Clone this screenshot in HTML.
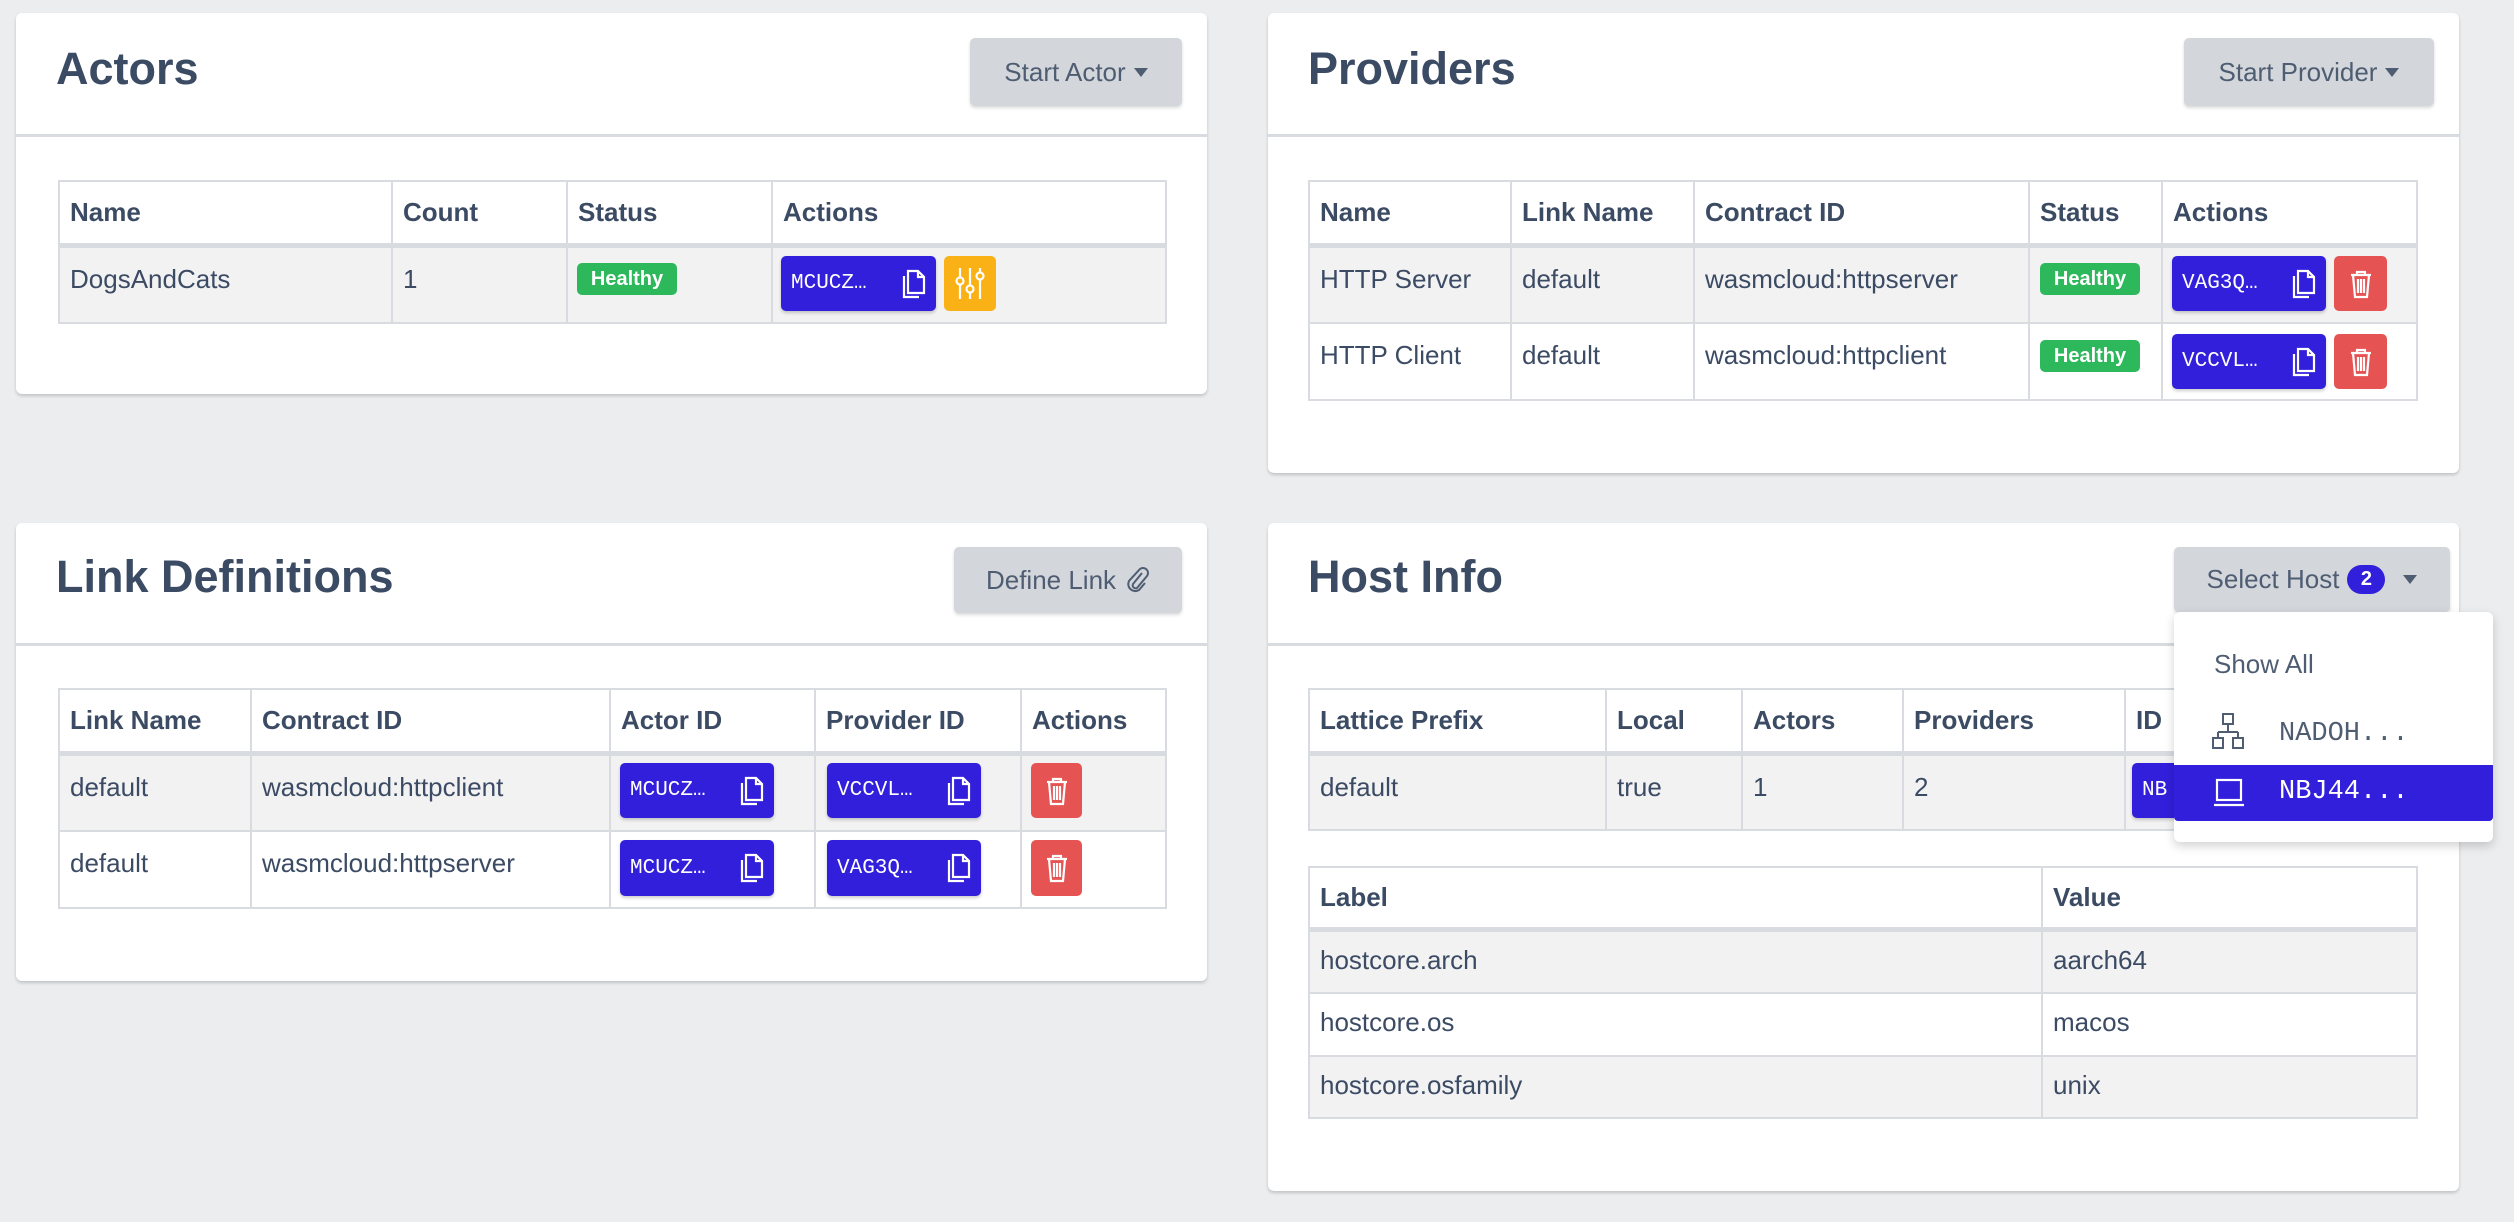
<!DOCTYPE html>
<html><head><meta charset="utf-8"><style>
*{box-sizing:border-box;margin:0;padding:0}
body{width:2514px;height:1222px;background:#ebedef;font-family:"Liberation Sans",sans-serif;color:#3c4b64;position:relative;overflow:hidden}
.card{position:absolute;background:#fff;border-radius:6px;box-shadow:0 2px 3px rgba(0,0,0,.18)}
.hdr{position:absolute;left:0;right:0;top:0;border-bottom:3px solid #d8dbe0}
.title{position:absolute;left:40px;font-size:45px;font-weight:bold;color:#3c4b64}
.btn{position:absolute;background:#d3d6db;border-radius:5px;color:#4f5d73;font-size:26px;display:flex;align-items:center;justify-content:center;box-shadow:0 2px 3px rgba(0,0,0,.15)}
.caret{display:inline-block;width:0;height:0;border-left:7px solid transparent;border-right:7px solid transparent;border-top:9px solid #4f5d73;margin-left:8px}
table{position:absolute;border-collapse:collapse;font-size:26px;color:#3c4b64;table-layout:fixed}
td,th{border:2px solid #d8dbe0;text-align:left;padding:0 10px}
th{font-weight:bold;vertical-align:middle;border-bottom:5px solid #d8dbe0}
td{vertical-align:top;padding-top:16px}
tr.s td{background:#f2f2f3}
.ab{position:absolute}
.pid{position:absolute;background:#321fdb;color:#fff;border-radius:5px;font-family:"Liberation Mono",monospace;font-size:21px;display:flex;align-items:center;padding-left:10px;box-shadow:0 2px 3px rgba(0,0,0,.2)}
.pid svg{position:absolute;right:10px}
.red{position:absolute;background:#e55353;border-radius:5px;display:flex;align-items:center;justify-content:center}
.badge{position:absolute;background:#2eb85c;color:#fff;font-weight:bold;font-size:20px;border-radius:5px;display:flex;align-items:center;justify-content:center}
</style></head><body>

<!-- Actors -->
<div class="card" style="left:16px;top:13px;width:1191px;height:381px">
 <div class="hdr" style="height:124px"></div>
 <div class="title" style="top:30px">Actors</div>
 <div class="btn" style="left:954px;top:25px;width:212px;height:68px">Start Actor<span class="caret"></span></div>
</div>
<table style="left:58px;top:180px;width:1109px">
 <tr style="height:64px"><th style="width:333px">Name</th><th style="width:175px">Count</th><th style="width:205px">Status</th><th>Actions</th></tr>
 <tr class="s" style="height:78px"><td>DogsAndCats</td><td>1</td><td></td><td></td></tr>
</table>
<div class="badge" style="left:577px;top:263px;width:100px;height:32px">Healthy</div>
<div class="pid" style="left:781px;top:256px;width:155px;height:55px">MCUCZ…<svg width="26" height="30" viewBox="0 0 26 30"><path d="M8 2h10l6 6v16H8z M18 2v6h6 M4 7v21h15" fill="none" stroke="#fff" stroke-width="2.2"/></svg></div>
<div class="ab" style="left:944px;top:256px;width:52px;height:55px;background:#f9b115;border-radius:5px"><svg width="52" height="55"><g stroke="#fff" stroke-width="2.2" fill="none"><line x1="16" y1="12" x2="16" y2="43"/><line x1="26" y1="12" x2="26" y2="43"/><line x1="36" y1="12" x2="36" y2="43"/><circle cx="16" cy="25" r="3.5" fill="#f9b115"/><circle cx="26" cy="33" r="3.5" fill="#f9b115"/><circle cx="36" cy="20" r="3.5" fill="#f9b115"/></g></svg></div>

<!-- Providers -->
<div class="card" style="left:1268px;top:13px;width:1191px;height:460px">
 <div class="hdr" style="height:124px"></div>
 <div class="title" style="top:30px">Providers</div>
 <div class="btn" style="left:916px;top:25px;width:250px;height:68px">Start Provider<span class="caret"></span></div>
</div>
<table style="left:1308px;top:180px;width:1110px">
 <tr style="height:64px"><th style="width:202px">Name</th><th style="width:183px">Link Name</th><th style="width:335px">Contract ID</th><th style="width:133px">Status</th><th>Actions</th></tr>
 <tr class="s" style="height:78px"><td>HTTP Server</td><td>default</td><td>wasmcloud:httpserver</td><td></td><td></td></tr>
 <tr style="height:77px"><td>HTTP Client</td><td>default</td><td>wasmcloud:httpclient</td><td></td><td></td></tr>
</table>
<div class="badge" style="left:2040px;top:263px;width:100px;height:32px">Healthy</div>
<div class="badge" style="left:2040px;top:340px;width:100px;height:32px">Healthy</div>
<div class="pid" style="left:2172px;top:256px;width:154px;height:55px">VAG3Q…<svg width="26" height="30" viewBox="0 0 26 30"><path d="M8 2h10l6 6v16H8z M18 2v6h6 M4 7v21h15" fill="none" stroke="#fff" stroke-width="2.2"/></svg></div>
<div class="pid" style="left:2172px;top:334px;width:154px;height:55px">VCCVL…<svg width="26" height="30" viewBox="0 0 26 30"><path d="M8 2h10l6 6v16H8z M18 2v6h6 M4 7v21h15" fill="none" stroke="#fff" stroke-width="2.2"/></svg></div>
<div class="red" style="left:2334px;top:256px;width:53px;height:55px"><svg width="26" height="30"><g stroke="#fff" stroke-width="2.2" fill="none"><path d="M3 6h20M9 6V3h8v3M5 6l2 22h12l2-22M10 10v14M13 10v14M16 10v14"/></g></svg></div>
<div class="red" style="left:2334px;top:334px;width:53px;height:55px"><svg width="26" height="30"><g stroke="#fff" stroke-width="2.2" fill="none"><path d="M3 6h20M9 6V3h8v3M5 6l2 22h12l2-22M10 10v14M13 10v14M16 10v14"/></g></svg></div>

<!-- Link Definitions -->
<div class="card" style="left:16px;top:523px;width:1191px;height:458px">
 <div class="hdr" style="height:123px"></div>
 <div class="title" style="top:28px">Link Definitions</div>
 <div class="btn" style="left:938px;top:24px;width:228px;height:66px">Define Link<svg style="margin-left:8px" width="26" height="30" viewBox="0 0 26 30"><path d="M18 8l-9 11a3 3 0 0 0 4 4l10-12a5 5 0 0 0-7-7L5 16a7 7 0 0 0 10 9l6-7" fill="none" stroke="#4f5d73" stroke-width="2"/></svg></div>
</div>
<table style="left:58px;top:688px;width:1109px">
 <tr style="height:64px"><th style="width:192px">Link Name</th><th style="width:359px">Contract ID</th><th style="width:205px">Actor ID</th><th style="width:206px">Provider ID</th><th>Actions</th></tr>
 <tr class="s" style="height:78px"><td>default</td><td>wasmcloud:httpclient</td><td></td><td></td><td></td></tr>
 <tr style="height:77px"><td>default</td><td>wasmcloud:httpserver</td><td></td><td></td><td></td></tr>
</table>
<div class="pid" style="left:620px;top:763px;width:154px;height:55px">MCUCZ…<svg width="26" height="30" viewBox="0 0 26 30"><path d="M8 2h10l6 6v16H8z M18 2v6h6 M4 7v21h15" fill="none" stroke="#fff" stroke-width="2.2"/></svg></div>
<div class="pid" style="left:827px;top:763px;width:154px;height:55px">VCCVL…<svg width="26" height="30" viewBox="0 0 26 30"><path d="M8 2h10l6 6v16H8z M18 2v6h6 M4 7v21h15" fill="none" stroke="#fff" stroke-width="2.2"/></svg></div>
<div class="red" style="left:1031px;top:763px;width:51px;height:55px"><svg width="26" height="30"><g stroke="#fff" stroke-width="2.2" fill="none"><path d="M3 6h20M9 6V3h8v3M5 6l2 22h12l2-22M10 10v14M13 10v14M16 10v14"/></g></svg></div>
<div class="pid" style="left:620px;top:840px;width:154px;height:56px">MCUCZ…<svg width="26" height="30" viewBox="0 0 26 30"><path d="M8 2h10l6 6v16H8z M18 2v6h6 M4 7v21h15" fill="none" stroke="#fff" stroke-width="2.2"/></svg></div>
<div class="pid" style="left:827px;top:840px;width:154px;height:56px">VAG3Q…<svg width="26" height="30" viewBox="0 0 26 30"><path d="M8 2h10l6 6v16H8z M18 2v6h6 M4 7v21h15" fill="none" stroke="#fff" stroke-width="2.2"/></svg></div>
<div class="red" style="left:1031px;top:840px;width:51px;height:56px"><svg width="26" height="30"><g stroke="#fff" stroke-width="2.2" fill="none"><path d="M3 6h20M9 6V3h8v3M5 6l2 22h12l2-22M10 10v14M13 10v14M16 10v14"/></g></svg></div>

<!-- Host Info -->
<div class="card" style="left:1268px;top:523px;width:1191px;height:668px">
 <div class="hdr" style="height:123px"></div>
 <div class="title" style="top:28px">Host Info</div>
</div>
<table style="left:1308px;top:688px;width:1110px">
 <tr style="height:64px"><th style="width:297px">Lattice Prefix</th><th style="width:136px">Local</th><th style="width:161px">Actors</th><th style="width:222px">Providers</th><th>ID</th></tr>
 <tr class="s" style="height:77px"><td>default</td><td>true</td><td>1</td><td>2</td><td></td></tr>
</table>
<div class="pid" style="left:2132px;top:763px;width:154px;height:55px">NB</div>
<table style="left:1308px;top:866px;width:1110px">
 <tr style="height:62px"><th style="width:733px">Label</th><th>Value</th></tr>
 <tr class="s" style="height:64px"><td style="padding-top:13px">hostcore.arch</td><td style="padding-top:13px">aarch64</td></tr>
 <tr style="height:63px"><td style="padding-top:13px">hostcore.os</td><td style="padding-top:13px">macos</td></tr>
 <tr class="s" style="height:62px"><td style="padding-top:13px">hostcore.osfamily</td><td style="padding-top:13px">unix</td></tr>
</table>
<div class="btn" style="left:2174px;top:547px;width:276px;height:65px">Select Host<span style="display:inline-flex;align-items:center;justify-content:center;background:#321fdb;color:#fff;font-size:20px;font-weight:bold;width:38px;height:29px;border-radius:15px;margin-left:8px">2</span><span class="caret" style="margin-left:18px"></span></div>
<div class="ab" style="left:2174px;top:612px;width:319px;height:230px;background:#fff;border-radius:6px;box-shadow:0 4px 10px rgba(0,0,0,.18)">
 <div class="ab" style="left:40px;top:37px;font-size:26px;color:#4f5d73">Show All</div>
 <svg class="ab" style="left:38px;top:100px" width="32" height="40"><g stroke="#4f5d73" stroke-width="2" fill="none"><rect x="11" y="2" width="10" height="10"/><path d="M16 12v8M6 20h20M6 20v6M26 20v6"/><rect x="1" y="26" width="10" height="10"/><rect x="21" y="26" width="10" height="10"/></g></svg>
 <div class="ab" style="left:105px;top:107px;font-family:'Liberation Mono',monospace;font-size:27px;color:#4f5d73">NADOH...</div>
 <div class="ab" style="left:0;top:153px;width:319px;height:56px;background:#321fdb;border-radius:0 0 4px 4px"></div>
 <svg class="ab" style="left:40px;top:165px" width="30" height="32"><g stroke="#fff" stroke-width="2.2" fill="none"><rect x="3" y="3" width="24" height="20"/><path d="M0 28h30"/></g></svg>
 <div class="ab" style="left:105px;top:165px;font-family:'Liberation Mono',monospace;font-size:27px;color:#fff">NBJ44...</div>
</div>
</body></html>
